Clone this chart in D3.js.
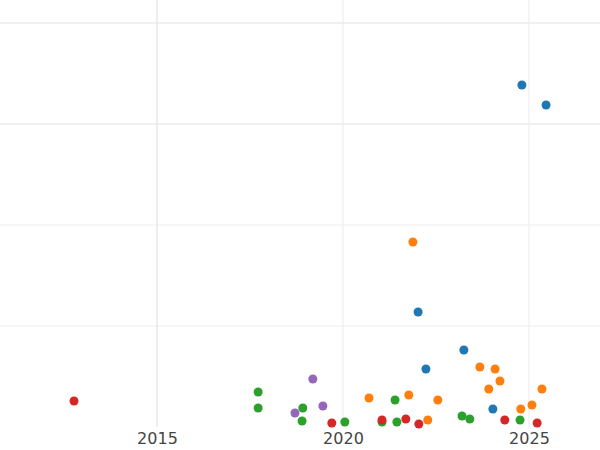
<!DOCTYPE html>
<html>
<head>
<meta charset="utf-8">
<script src="https://cdn.jsdelivr.net/npm/d3@7"></script>
<style>
  body { margin: 0; background: #fff; }
  text { font-family: "DejaVu Sans", sans-serif; }
</style>
</head>
<body>
<svg id="chart" width="600" height="450"></svg>
<script>
// values (year, value)
var blueX = [2024.81, 2025.46, 2022.02, 2023.25, 2022.23, 2024.03];
var blueY = [338.6, 318.8, 113.9, 76.2, 57.4, 17.8];
var orangeX = [2021.88, 2023.68, 2024.09, 2023.92, 2024.22, 2025.35, 2020.70, 2021.77, 2022.55, 2025.08, 2024.78, 2022.28];
var orangeY = [183.2, 59.4, 57.4, 37.6, 45.5, 37.6, 28.7, 31.7, 26.7, 21.8, 17.8, 6.9];
var greenX = [2017.72, 2017.72, 2018.92, 2018.90, 2020.05, 2021.05, 2021.40, 2021.45, 2023.20, 2023.41, 2024.76];
var greenY = [34.7, 18.8, 18.8, 5.9, 5.0, 5.0, 26.7, 5.0, 10.9, 7.9, 6.9];
var redX = [2012.77, 2019.70, 2021.05, 2021.69, 2022.04, 2024.35, 2025.22];
var redY = [25.7, 4.0, 6.9, 7.9, 3.0, 6.9, 4.0];
var purpleX = [2019.19, 2018.71, 2019.46];
var purpleY = [47.5, 13.9, 20.8];
var xTicks = [2015, 2020, 2025];
var yTicks = [100, 200, 300, 400];

var series = [
  {x: blueX, y: blueY, color: "#1f77b4"},
  {x: orangeX, y: orangeY, color: "#ff7f0e"},
  {x: greenX, y: greenY, color: "#2ca02c"},
  {x: redX, y: redY, color: "#d62728"},
  {x: purpleX, y: purpleY, color: "#9467bd"}
];

var svg = d3.select("#chart");
var x = d3.scaleLinear().domain([2010.78, 2026.91]).range([0, 600]);
var y = d3.scaleLinear().domain([0, 400]).range([427, 23]);

// grid
svg.selectAll(".hg").data(yTicks).enter().append("line")
  .attr("x1", 0).attr("x2", 600)
  .attr("y1", d => y(d)).attr("y2", d => y(d))
  .attr("stroke", d => d >= 300 ? "#e2e2e2" : "#eeeeee").attr("stroke-width", 1.2);
svg.selectAll(".vg").data(xTicks).enter().append("line")
  .attr("x1", d => x(d)).attr("x2", d => x(d))
  .attr("y1", 0).attr("y2", 427)
  .attr("stroke", d => d == 2015 ? "#e2e2e2" : "#eeeeee").attr("stroke-width", 1.2);

// x tick labels
var xAxis = d3.axisBottom(x).tickValues(xTicks).tickFormat(d3.format("d")).tickSize(0).tickPadding(6);
var ax = svg.append("g").attr("transform", "translate(0,427)").call(xAxis);
ax.select(".domain").remove();
ax.selectAll("text").attr("font-size", 16).attr("fill", "#444")
  .style("font-family", "'DejaVu Sans', sans-serif");

// points
series.forEach(s => {
  svg.append("g").selectAll("circle").data(s.x).enter().append("circle")
    .attr("cx", d => x(d))
    .attr("cy", (d, i) => y(s.y[i]))
    .attr("r", 4.5)
    .attr("fill", s.color);
});
</script>
</body>
</html>
